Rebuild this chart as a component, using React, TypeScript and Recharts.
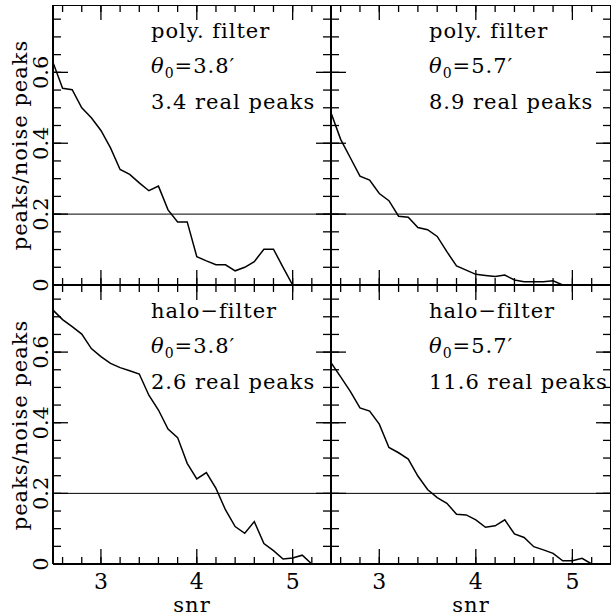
import React from "react";
import { LineChart, Line, XAxis, YAxis, ReferenceLine } from "recharts";

// snr grid shared by all four curves
const SNR = [
  2.5, 2.6, 2.7, 2.8, 2.9, 3.0, 3.1, 3.2, 3.3, 3.4, 3.5, 3.6, 3.7, 3.8,
  3.9, 4.0, 4.1, 4.2, 4.3, 4.4, 4.5, 4.6, 4.7, 4.8, 4.9, 5.0, 5.1, 5.2,
];

// peaks/noise peaks
const POLY_38 = [
  0.628, 0.555, 0.551, 0.5, 0.472, 0.436, 0.387, 0.326, 0.312, 0.288, 0.266,
  0.279, 0.212, 0.178, 0.178, 0.08, 0.068, 0.057, 0.057, 0.04, 0.05, 0.066,
  0.101, 0.101, 0.05, 0.0,
];
const POLY_57 = [
  0.486, 0.411, 0.359, 0.307, 0.296, 0.258, 0.238, 0.194, 0.191, 0.162, 0.156,
  0.137, 0.094, 0.054, 0.042, 0.03, 0.027, 0.024, 0.028, 0.014, 0.009, 0.009,
  0.009, 0.012, 0.0,
];
const HALO_38 = [
  0.719, 0.692, 0.672, 0.651, 0.61, 0.587, 0.568, 0.556, 0.547, 0.538, 0.478,
  0.436, 0.382, 0.358, 0.285, 0.241, 0.259, 0.214, 0.153, 0.106, 0.087, 0.12,
  0.058, 0.038, 0.014, 0.017, 0.025, 0.0,
];
const HALO_57 = [
  0.57, 0.53, 0.489, 0.442, 0.433, 0.396, 0.33, 0.315, 0.297, 0.249, 0.211,
  0.188, 0.172, 0.141, 0.139, 0.125, 0.104, 0.108, 0.125, 0.085, 0.075, 0.049,
  0.04, 0.03, 0.009, 0.009, 0.016, 0.0,
];

const X_TICKS = [2.6, 2.8, 3, 3.2, 3.4, 3.6, 3.8, 4, 4.2, 4.4, 4.6, 4.8, 5, 5.2];
const X_LABELS = [3, 4, 5];
const Y_TICKS = [
  0, 0.05, 0.1, 0.15, 0.2, 0.25, 0.3, 0.35, 0.4, 0.45, 0.5, 0.55, 0.6, 0.65,
  0.7, 0.75,
];
const Y_LABELS = [0, 0.2, 0.4, 0.6];
const X_DOMAIN = [2.5, 5.4];
const Y_DOMAIN = [0, 0.79];
const THRESHOLD = 0.2;

const FONT = "'DejaVu Serif', serif";

// room left for the y labels and below for the x labels
const L = 60;
const B = 52;
const MINOR = 7;
const MAJOR = 14;

const PANELS = [
  { values: POLY_38, title: "poly. filter", theta: "3.8", peaks: "3.4 real peaks", px: 53, py: 5, pw: 278, ph: 280, xLab: false, yLab: true },
  { values: POLY_57, title: "poly. filter", theta: "5.7", peaks: "8.9 real peaks", px: 331, py: 5, pw: 280, ph: 280, xLab: false, yLab: false },
  { values: HALO_38, title: "halo\u2212filter", theta: "3.8", peaks: "2.6 real peaks", px: 53, py: 285, pw: 278, ph: 279, xLab: true, yLab: true },
  { values: HALO_57, title: "halo\u2212filter", theta: "5.7", peaks: "11.6 real peaks", px: 331, py: 285, pw: 280, ph: 279, xLab: true, yLab: false },
];

const noLabel = () => <g />;

// label under the bottom edge; props.y sits at the inner end of the major tick
const makeXLabel = (showLabel: boolean) => (props: any) => {
  if (!showLabel) return <g />;
  return (
    <text x={props.x} y={Number(props.y) + MAJOR + 26} textAnchor="middle" fontSize={22} fontFamily={FONT} fill="#000">
      {String(props.payload.value)}
    </text>
  );
};

// rotated label left of the axis; props.x sits at the inner end of the major tick
const makeYLabel = (showLabel: boolean) => (props: any) => {
  if (!showLabel) return <g />;
  const v = props.payload.value;
  const lx = Number(props.x) - MAJOR - 6;
  const y = Number(props.y);
  return (
    <text x={lx} y={y} transform={`rotate(-90 ${lx} ${y})`} textAnchor="middle" fontSize={21} fontFamily={FONT} fill="#000">
      {v === 0 ? "0" : v.toFixed(1)}
    </text>
  );
};

const tickLine = { stroke: "#000", strokeWidth: 1.3 };
const frame = { stroke: "#000", strokeWidth: 2 };

const Panel = ({ p }: { p: (typeof PANELS)[number] }) => {
  const data = p.values.map((v, i) => ({ snr: SNR[i], v }));
  // mirrored axes draw their tick marks inward; minor and major sets use separate axes
  const xCommon = {
    dataKey: "snr",
    type: "number" as const,
    domain: X_DOMAIN,
    allowDataOverflow: true,
    interval: 0,
    mirror: true,
    height: 1,
    tickMargin: 0,
    stroke: "#000",
    tickLine,
  };
  const yCommon = {
    type: "number" as const,
    domain: Y_DOMAIN,
    allowDataOverflow: true,
    interval: 0,
    mirror: true,
    width: 1,
    tickMargin: 0,
    stroke: "#000",
    tickLine,
  };
  return (
    <div style={{ position: "absolute", left: p.px - L, top: p.py }}>
      <LineChart
        width={p.pw + L}
        height={p.ph + B}
        data={data}
        margin={{ top: 0, right: 0, bottom: B, left: L }}
      >
        <XAxis xAxisId="b" orientation="bottom" {...xCommon} ticks={X_TICKS} tickSize={MINOR} axisLine={frame} tick={noLabel} />
        <XAxis xAxisId="bm" orientation="bottom" {...xCommon} ticks={X_LABELS} tickSize={MAJOR} axisLine={false} tick={makeXLabel(p.xLab)} />
        <XAxis xAxisId="t" orientation="top" {...xCommon} ticks={X_TICKS} tickSize={MINOR} axisLine={frame} tick={noLabel} />
        <XAxis xAxisId="tm" orientation="top" {...xCommon} ticks={X_LABELS} tickSize={MAJOR} axisLine={false} tick={noLabel} />
        <YAxis yAxisId="l" orientation="left" {...yCommon} ticks={Y_TICKS} tickSize={MINOR + 1} axisLine={frame} tick={noLabel} />
        <YAxis yAxisId="lm" orientation="left" {...yCommon} ticks={Y_LABELS} tickSize={MAJOR} axisLine={false} tick={makeYLabel(p.yLab)} />
        <YAxis yAxisId="r" orientation="right" {...yCommon} ticks={Y_TICKS} tickSize={MINOR + 1} axisLine={frame} tick={noLabel} />
        <YAxis yAxisId="rm" orientation="right" {...yCommon} ticks={Y_LABELS} tickSize={MAJOR} axisLine={false} tick={noLabel} />
        <ReferenceLine xAxisId="b" yAxisId="l" y={THRESHOLD} stroke="#000" strokeWidth={1} />
        <Line
          xAxisId="b"
          yAxisId="l"
          type="linear"
          dataKey="v"
          stroke="#000"
          strokeWidth={1.5}
          dot={false}
          isAnimationActive={false}
        />
        {/* invisible copies only tie the extra tick axes to the same data */}
        <Line xAxisId="bm" yAxisId="lm" dataKey="v" stroke="none" dot={false} activeDot={false} isAnimationActive={false} />
        <Line xAxisId="t" yAxisId="r" dataKey="v" stroke="none" dot={false} activeDot={false} isAnimationActive={false} />
        <Line xAxisId="tm" yAxisId="rm" dataKey="v" stroke="none" dot={false} activeDot={false} isAnimationActive={false} />
      </LineChart>
    </div>
  );
};

const textProps = { fontFamily: FONT, fontSize: 21, fill: "#000", letterSpacing: 1 };

export default function App() {
  return (
    <div style={{ position: "absolute", left: 0, top: 0, width: 616, height: 616, background: "#fff", overflow: "hidden" }}>
      {PANELS.map((p, i) => (
        <Panel key={i} p={p} />
      ))}
      <svg width={616} height={616} style={{ position: "absolute", left: 0, top: 0, pointerEvents: "none" }}>
        {PANELS.map((p, i) => (
          <g key={i}>
            <text x={p.px + 98} y={p.py + 33} {...textProps}>{p.title}</text>
            <text x={p.px + 98} y={p.py + 68} {...textProps}>
              <tspan fontStyle="italic">{"\u03b8"}</tspan>
              <tspan fontSize={14} dy={5}>0</tspan>
              <tspan dy={-5}>{`=${p.theta}\u2032`}</tspan>
            </text>
            <text x={p.px + 98} y={p.py + 104} {...textProps}>{p.peaks}</text>
          </g>
        ))}
        {[145, 425].map((cy) => (
          <text key={cy} x={27} y={cy} transform={`rotate(-90 27 ${cy})`} textAnchor="middle" {...textProps}>
            peaks/noise peaks
          </text>
        ))}
        {[192, 471].map((cx) => (
          <text key={cx} x={cx} y={612} textAnchor="middle" {...textProps}>
            snr
          </text>
        ))}
      </svg>
    </div>
  );
}
